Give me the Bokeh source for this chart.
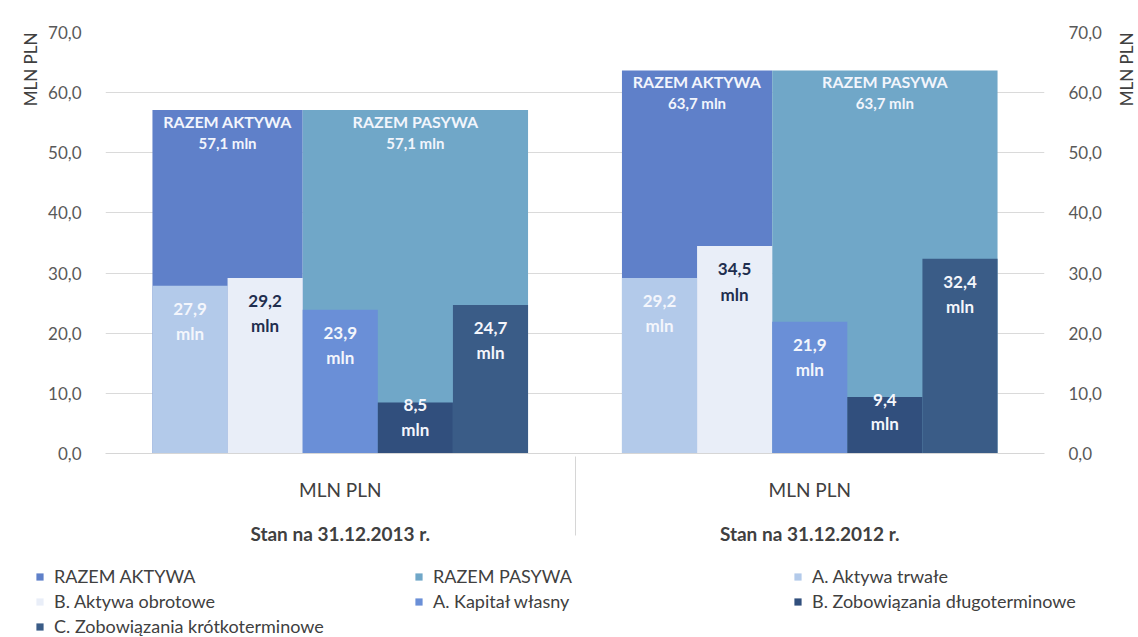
import math
from bokeh.plotting import figure
from bokeh.models import (ColumnDataSource, FactorRange, LinearAxis, Range1d, Legend, LegendItem,
                          CustomJSTickFormatter, Title, FixedTicker, Label)
from bokeh.transform import dodge
from bokeh.embed import file_html
from bokeh.resources import INLINE
from bokeh.core.properties import value

# ---- data ----
groups = ["Stan na 31.12.2013 r.", "Stan na 31.12.2012 r."]
subgroup = "MLN PLN"
y_ticks = [0, 10, 20, 30, 40, 50, 60, 70]

razem_aktywa = [57.1, 63.7]
razem_pasywa = [57.1, 63.7]
aktywa_trwale = [27.9, 29.2]
aktywa_obrotowe = [29.2, 34.5]
kapital_wlasny = [23.9, 21.9]
zob_dlugo = [8.5, 9.4]
zob_krotko = [24.7, 32.4]

FONT = "Lato"
factors = [(g, subgroup) for g in groups]

p = figure(width=1138, height=560,
           x_range=FactorRange(*factors, group_padding=0, factor_padding=0, range_padding=0),
           y_range=Range1d(0, 70),
           output_backend="svg", toolbar_location=None,
           min_border_left=105, min_border_right=94, min_border_top=32, min_border_bottom=107)
p.outline_line_color = None
p.xgrid.grid_line_color = None
p.ygrid.grid_line_color = "#dadada"
p.ygrid.ticker = FixedTicker(ticks=y_ticks)

fmt = CustomJSTickFormatter(code="return tick.toFixed(1).replace('.', ',');")
p.yaxis.ticker = FixedTicker(ticks=y_ticks)
p.yaxis.formatter = fmt
right = LinearAxis(ticker=FixedTicker(ticks=y_ticks), formatter=fmt)
p.add_layout(right, "right")
for ax in p.yaxis:
    ax.axis_line_color = None
    ax.major_tick_line_color = None
    ax.minor_tick_line_color = None
    ax.major_label_text_font = FONT
    ax.major_label_text_font_size = "17px"
    ax.major_label_text_color = "#595959"
    ax.major_label_standoff = 18

xa = p.xaxis[0]
xa.axis_line_color = "#d6d6d6"
xa.major_tick_line_color = None
xa.major_label_text_font = FONT
xa.major_label_text_font_size = "19px"
xa.major_label_text_color = "#404040"
xa.major_label_standoff = 18
xa.group_text_font = FONT
xa.group_text_font_size = "19px"
xa.group_text_font_style = "bold"
xa.group_text_color = "#404040"
xa.separator_line_color = "#d6d6d6"
xa.separator_line_width = 1

p.add_layout(Title(text="MLN PLN", align="right", text_font=FONT, text_font_size="17px",
                   text_font_style="normal", text_color="#404040"), "left")

# right-hand axis title, reading bottom-to-top, aligned with the top of the plot
p.add_layout(Label(text="MLN PLN", x=22, y=421, x_units="screen", y_units="screen",
                   angle=math.pi / 2, text_align="right", text_baseline="middle",
                   text_font=FONT, text_font_size="17px", text_color="#404040"), "right")

series = [
    ("RAZEM AKTYWA", razem_aktywa, -0.24, 0.32, "#5f80c9"),
    ("RAZEM PASYWA", razem_pasywa, 0.16, 0.48, "#70a7c8"),
    ("A. Aktywa trwałe", aktywa_trwale, -0.32, 0.16, "#b3caea"),
    ("B. Aktywa obrotowe", aktywa_obrotowe, -0.16, 0.16, "#e9eef8"),
    ("A. Kapitał własny", kapital_wlasny, 0.0, 0.16, "#6a8fd7"),
    ("B. Zobowiązania długoterminowe", zob_dlugo, 0.16, 0.16, "#314f7d"),
    ("C. Zobowiązania krótkoterminowe", zob_krotko, 0.32, 0.16, "#3a5c87"),
]

# legend strip below the chart (separate root so it is not aligned to the chart frame)
lf = figure(width=1138, height=77, output_backend="svg", toolbar_location=None,
            x_range=FactorRange(*factors, group_padding=0, factor_padding=0, range_padding=0),
            y_range=Range1d(-2, -1),
            x_axis_location=None, y_axis_location=None,
            min_border_left=0, min_border_right=0, min_border_top=0, min_border_bottom=0)
lf.outline_line_color = None
lf.xgrid.grid_line_color = None
lf.ygrid.grid_line_color = None

items = []
for i, (name, vals, off, w, col) in enumerate(series):
    fmt_vals = [f"{v:.1f}".replace(".", ",") for v in vals]
    src = ColumnDataSource(dict(x=factors, top=vals, lbl=fmt_vals,
                                big=[f"{v} mln" for v in fmt_vals]))
    p.vbar(x=dodge("x", off, range=p.x_range), top="top", width=w, source=src,
           fill_color=col, line_color=None)
    # hidden copy used only to key the legend entry
    lr = lf.vbar(x=dodge("x", off, range=lf.x_range), top="top", bottom="top", width=w,
                 source=src, fill_color=col, line_color=None, visible=False)
    items.append(LegendItem(label=name, renderers=[lr]))
    if i < 2:
        p.text(x=dodge("x", off, range=p.x_range), y="top", text=value(name), source=src,
               text_align="center", text_baseline="middle", y_offset=11,
               text_color="#f2f5fc", text_font=value(FONT), text_font_style="bold",
               text_font_size="16px")
        p.text(x=dodge("x", off, range=p.x_range), y="top", text="big", source=src,
               text_align="center", text_baseline="middle", y_offset=33,
               text_color="#f2f5fc", text_font=value(FONT), text_font_style="bold",
               text_font_size="15px")
    else:
        src.data["y1"] = [3 if v < 12 else 23 for v in vals]
        src.data["y2"] = [27 if v < 12 else 48 for v in vals]
        tc = "#1f2e4f" if i == 3 else "#f4f6fc"
        p.text(x=dodge("x", off, range=p.x_range), y="top", text="lbl", source=src,
               text_align="center", text_baseline="middle", y_offset="y1",
               text_color=tc, text_font=value(FONT), text_font_style="bold",
               text_font_size="17px")
        p.text(x=dodge("x", off, range=p.x_range), y="top", text=value("mln"), source=src,
               text_align="center", text_baseline="middle", y_offset="y2",
               text_color=tc, text_font=value(FONT), text_font_style="bold",
               text_font_size="17px")

legend = Legend(items=items, orientation="horizontal", ncols=3,
                location=(35, 0), padding=0, margin=0,
                border_line_color=None, background_fill_alpha=0,
                inactive_fill_alpha=0,
                glyph_width=9, glyph_height=9, label_standoff=10, label_width=357,
                label_height=20, spacing=3,
                label_text_font=FONT, label_text_font_size="18px", label_text_color="#404040")
lf.add_layout(legend, "center")

open("out.html", "w").write(file_html([p, lf], INLINE))
